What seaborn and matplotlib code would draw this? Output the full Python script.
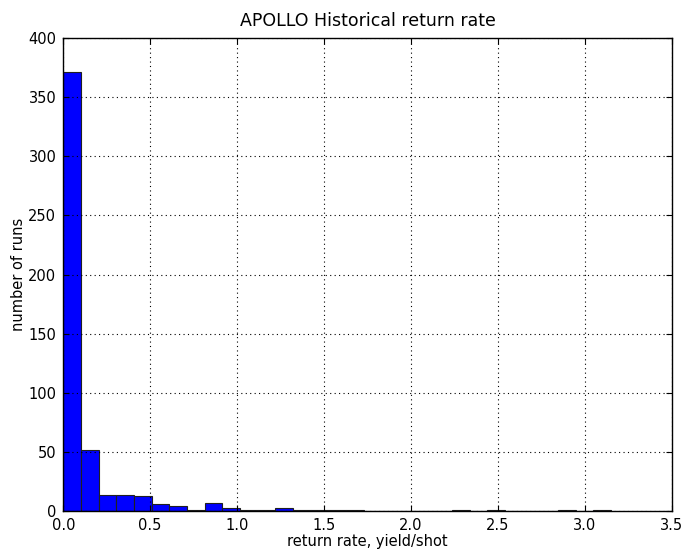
import numpy as np
import pandas as pd
import matplotlib
matplotlib.use("Agg")
import matplotlib.pyplot as plt
import seaborn as sns

# histogram counts per bin (31 equal bins from 0 to ~3.15)
counts = [371, 52, 14, 14, 13, 6, 4, 1, 7, 3,
          1, 1, 3, 1, 1, 1, 1, 0, 0, 0,
          0, 0, 1, 0, 1, 0, 0, 0, 1, 0,
          1]
bin_lo = 0.0
bin_hi = 3.15
x_ticks = [0.0, 0.5, 1.0, 1.5, 2.0, 2.5, 3.0, 3.5]
y_ticks = [0, 50, 100, 150, 200, 250, 300, 350, 400]

edges = np.linspace(bin_lo, bin_hi, len(counts) + 1)
centers = (edges[:-1] + edges[1:]) / 2
df = pd.DataFrame({"rate": centers, "n": counts})

plt.rcParams['font.family'] = ['DejaVu Sans']
fig = plt.figure(figsize=(6.84, 5.52), dpi=100)
ax = fig.add_axes([0.0925, 0.074, 0.8895, 0.857])

sns.histplot(data=df, x="rate", weights="n", bins=edges.tolist(), ax=ax,
             color="#0000ff", edgecolor="#202020", linewidth=0.8, alpha=1.0)

ax.set_xlim(0, 3.5)
ax.set_ylim(0, 400)
ax.set_xticks(x_ticks)
ax.set_xticklabels([f"{t:.1f}" for t in x_ticks])
ax.set_yticks(y_ticks)
ax.set_xlabel("return rate, yield/shot", fontsize=10.5, labelpad=1)
ax.set_ylabel("number of runs", fontsize=10.5, labelpad=1.5)
ax.set_title("APOLLO Historical return rate", fontsize=12.5, pad=9)
ax.tick_params(direction="in", top=True, right=True, labelsize=10.5, length=4, pad=5)
ax.grid(True, color="black", linestyle=(0, (1, 3)), linewidth=0.8)
ax.set_axisbelow(False)
for s in ax.spines.values():
    s.set_linewidth(1.0)
    s.set_color("black")

fig.savefig("out.png", dpi=100, facecolor="white")
